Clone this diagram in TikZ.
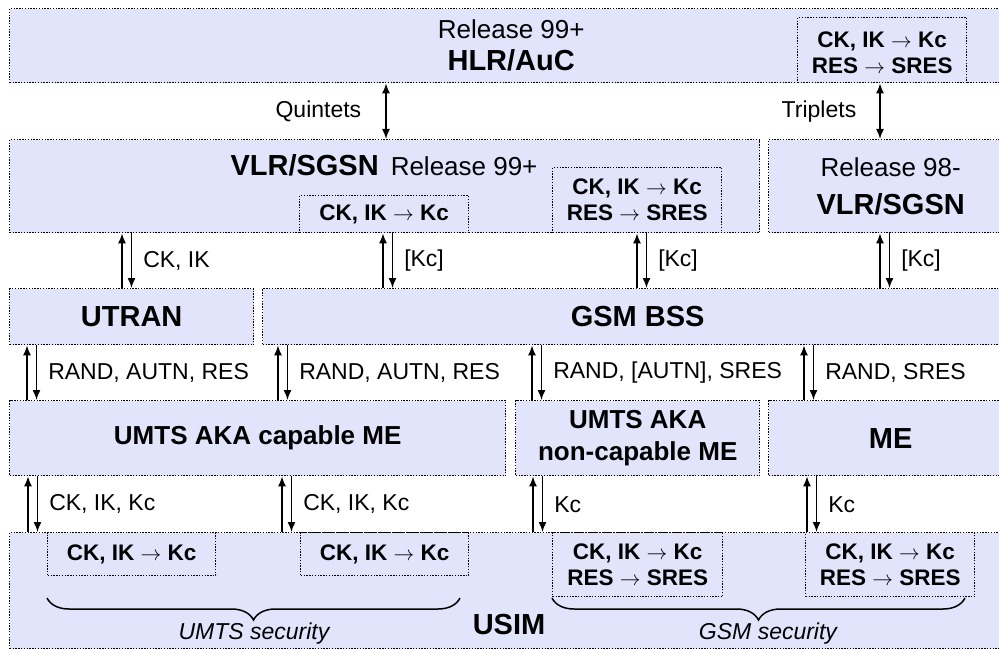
\documentclass[tikz,border=0pt]{standalone}
\usepackage{fontspec}
\setmainfont{Liberation Sans}
\usetikzlibrary{positioning,arrows.meta,decorations.pathreplacing}
\definecolor{lav}{RGB}{226,228,252}
\begin{document}
\begin{tikzpicture}[
    x=1pt, y=-1pt,
    >={Latex[length=10pt,width=8pt]},
    blk/.style={
        draw,
        dash pattern=on 1.4pt off 1.4pt,
        line width=1.4pt,
        fill=lav,
        rectangle,
        inner sep=0pt,
        anchor=north west,
        align=center,
        font=\fontsize{29}{32}\selectfont\bfseries
    },
    conv/.style={
        blk,
        font=\fontsize{22.5}{26}\selectfont\bfseries
    },
    lbl/.style={inner sep=0pt, font=\fontsize{23}{26}\selectfont},
    sec/.style={inner sep=0pt, font=\fontsize{23}{26}\selectfont\itshape},
    arr/.style={line width=1.5pt},
    brace/.style={decorate, decoration={brace, mirror, amplitude=22pt}, line width=1.5pt}
]
    \useasboundingbox (0,0) rectangle (999,650);

    % HLR/AuC
    \node[blk, minimum width=1003pt, minimum height=74pt] (hlr) at (9,8)
        {{\fontsize{26}{32}\selectfont\mdseries Release 99+}\\HLR/AuC};
    \node[conv, minimum width=169pt, minimum height=65pt] (hlrconv) at (797,17)
        {\\[-6pt]CK, IK $\rightarrow$ Kc\\RES $\rightarrow$ SRES};

    % VLR/SGSN
    \node[blk, minimum width=750pt, minimum height=93pt] (vlr) at (9,139) {};
    \node[font=\fontsize{29}{32}\selectfont\bfseries] (vlrtext) at (384,165)
        {VLR/SGSN\hspace{12pt}{\fontsize{26}{30}\selectfont\mdseries Release 99+}};
    \node[conv, minimum width=169pt, minimum height=37pt] (vlrconvA) at (299,195)
        {CK, IK $\rightarrow$ Kc};
    \node[conv, minimum width=169pt, minimum height=65pt] (vlrconvB) at (552,167)
        {CK, IK $\rightarrow$ Kc\\RES $\rightarrow$ SRES};
    \node[blk, minimum width=244pt, minimum height=93pt] (vlrold) at (768,139)
        {{\fontsize{26}{30}\selectfont\mdseries Release 98-}\\[6pt]VLR/SGSN};

    % Accesso radio
    \node[blk, minimum width=244pt, minimum height=56pt] (utran) at (9,288) {UTRAN};
    \node[blk, minimum width=750pt, minimum height=56pt] (bss) at (262,288) {GSM BSS};

    % Terminali
    \node[blk, minimum width=496pt, minimum height=75pt,
          font=\fontsize{26}{32}\selectfont\bfseries] (meA) at (9,400) {UMTS AKA capable ME};
    \node[blk, minimum width=244pt, minimum height=75pt,
          font=\fontsize{26}{32}\selectfont\bfseries] (meB) at (515,400) {UMTS AKA\\non-capable ME};
    \node[blk, minimum width=244pt, minimum height=75pt] (meC) at (768,400) {ME};

    % USIM
    \node[blk, minimum width=1003pt, minimum height=116pt] (usim) at (9,532) {};
    \node[font=\fontsize{29}{32}\selectfont\bfseries] (usimtext) at (509,625) {USIM};
    \node[conv, minimum width=168pt, minimum height=43pt] (usimconvA) at (47,532)
        {CK, IK $\rightarrow$ Kc};
    \node[conv, minimum width=168pt, minimum height=43pt] (usimconvB) at (300,532)
        {CK, IK $\rightarrow$ Kc};
    \node[conv, minimum width=170pt, minimum height=64pt] (usimconvC) at (552,532)
        {CK, IK $\rightarrow$ Kc\\RES $\rightarrow$ SRES};
    \node[conv, minimum width=169pt, minimum height=64pt] (usimconvD) at (805,532)
        {CK, IK $\rightarrow$ Kc\\RES $\rightarrow$ SRES};

    % Quintets / Triplets
    \draw[arr, <->] (hlr.south -| 386,0) -- node[lbl, left=24pt] (quint) {Quintets} (vlr.north -| 386,0);
    \draw[arr, <->] (hlrconv.south -| 880,0) -- node[lbl, left=23pt] (tripl) {Triplets} (vlrold.north -| 880,0);

    % Coppie di frecce
    \foreach \xa/\boxA/\boxB/\txt in {
        122/vlr/utran/{CK, IK}, 383/vlrconvA/bss/{[Kc]},
        637/vlrconvB/bss/{[Kc]}, 880/vlrold/bss/{[Kc]},
        27/utran/meA/{RAND, AUTN, RES}, 278/bss/meA/{RAND, AUTN, RES},
        532/bss/meB/{RAND, [AUTN], SRES}, 804/bss/meC/{RAND, SRES},
        28/meA/usim/{CK, IK, Kc}, 282/meA/usim/{CK, IK, Kc},
        533/meB/usim/{Kc}, 807/meC/usim/{Kc}}
    {
        \pgfmathsetmacro{\xb}{\xa+9.5}
        \draw[arr, ->] (\boxB.north -| \xa,0) -- (\boxA.south -| \xa,0);
        \draw[arr, ->] (\boxA.south -| \xb,0) -- node[lbl, right=11pt] {\txt} (\boxB.north -| \xb,0);
    }

    % Graffe
    \coordinate (umtsL) at (47,598);
    \coordinate (umtsR) at (460,598);
    \coordinate (gsmL) at (552,598);
    \coordinate (gsmR) at (965,598);
    \draw[brace] (umtsL) -- (umtsR);
    \draw[brace] (gsmL) -- (gsmR);
    \node[sec] (umtssec) at (254,634) {UMTS security};
    \node[sec] (gsmsec) at (768,634) {GSM security};

\end{tikzpicture}
\end{document}
